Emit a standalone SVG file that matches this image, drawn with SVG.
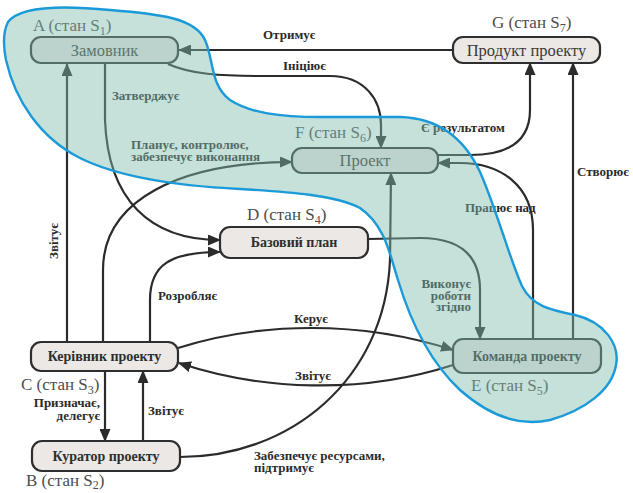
<svg xmlns="http://www.w3.org/2000/svg" width="633" height="493" viewBox="0 0 633 493" font-family="Liberation Serif, DejaVu Serif, serif">
<style>
.box{stroke:#2e2e2e;stroke-width:2.2;fill:#ebe8e5}
.nt{font-size:16.5px;fill:#3a3a3a;text-anchor:middle}
.nb{font-size:14px;font-weight:bold;fill:#2e2e2e;text-anchor:middle}
.st{font-size:17px;fill:#4d4d4d}
.sub{font-size:12px}
.ln{fill:none;stroke:#2b2b2b;stroke-width:2.2}
.lb{font-size:13px;font-weight:bold;fill:#2b2b2b}
.blob{fill:rgb(128,186,173);fill-opacity:0.45;stroke:#1a9ad8;stroke-width:2.4}
</style>
<defs>
<marker id="ah" markerWidth="13" markerHeight="11" refX="12" refY="5.5" orient="auto" markerUnits="userSpaceOnUse">
<path d="M0,0 L13,5.5 L0,11 Z" fill="#2b2b2b"/>
</marker>
</defs>
<rect width="633" height="493" fill="#ffffff"/>
<g id="connectors">
<path class="ln" d="M453,50 L179,50" marker-end="url(#ah)"/>
<text class="lb" x="263" y="39">Отримує</text>
<path class="ln" d="M168,64 C190,74 220,76 260,76 L330,76 C365,76 381,100 381,125 L381,148" marker-end="url(#ah)"/>
<text class="lb" x="283" y="70">Ініціює</text>
<path class="ln" d="M105,63 L105,120 C108,200 150,240 220,240" marker-end="url(#ah)"/>
<text class="lb" x="112" y="100">Затверджує</text>
<path class="ln" d="M103,342 L103,270 C103,200 180,162 292,162" marker-end="url(#ah)"/>
<text class="lb" x="131" y="149">Планує, контролює,</text>
<text class="lb" x="131" y="161">забезпечує виконання</text>
<path class="ln" d="M67,342 L67,64" marker-end="url(#ah)"/>
<text class="lb" transform="translate(58,241) rotate(-90)" text-anchor="middle">Звітує</text>
<path class="ln" d="M150,342 L150,300 C150,265 170,252 220,252" marker-end="url(#ah)"/>
<text class="lb" x="158" y="300">Розробляє</text>
<path class="ln" d="M178,348 C260,322 360,320 453,350" marker-end="url(#ah)"/>
<text class="lb" x="311" y="323" text-anchor="middle">Керує</text>
<path class="ln" d="M453,365 C360,395 260,390 179,363" marker-end="url(#ah)"/>
<text class="lb" x="313" y="380" text-anchor="middle">Звітує</text>
<path class="ln" d="M105,371 L105,441" marker-end="url(#ah)"/>
<text class="lb" x="100" y="407" text-anchor="end">Призначає,</text>
<text class="lb" x="100" y="420" text-anchor="end">делегує</text>
<path class="ln" d="M143,441 L143,371" marker-end="url(#ah)"/>
<text class="lb" x="148" y="415">Звітує</text>
<path class="ln" d="M180,457 C290,457 385,380 390,260 L391,173" marker-end="url(#ah)"/>
<text class="lb" x="254" y="460">Забезпечує ресурсами,</text>
<text class="lb" x="254" y="472">підтримує</text>
<path class="ln" d="M368,239 L420,238 C460,238 480,255 480,290 L480,339" marker-end="url(#ah)"/>
<text class="lb" x="471" y="288" text-anchor="end">Виконує</text>
<text class="lb" x="471" y="300" text-anchor="end">роботи</text>
<text class="lb" x="471" y="311" text-anchor="end">згідно</text>
<path class="ln" d="M533,339 L533,230 C533,185 500,163 460,163 L438,163" marker-end="url(#ah)"/>
<text class="lb" x="465" y="212">Працює над</text>
<path class="ln" d="M573,339 L573,63" marker-end="url(#ah)"/>
<text class="lb" x="577" y="176">Створює</text>
<path class="ln" d="M438,155 L470,155 C510,155 530,140 530,110 L530,63" marker-end="url(#ah)"/>
<text class="lb" x="421" y="132">Є результатом</text>
</g>
<g id="nodeA">
<rect class="box" x="31" y="37" width="147" height="26" rx="10"/>
<text class="nt" x="104.5" y="56">Замовник</text>
<text class="st" x="33" y="31">A (стан S<tspan class="sub" dy="4">1</tspan><tspan dy="-4">)</tspan></text>
</g>
<g id="nodeG">
<rect class="box" x="453" y="37" width="147" height="26" rx="10"/>
<text class="nt" x="526.5" y="56">Продукт проекту</text>
<text class="st" x="492" y="28">G (стан S<tspan class="sub" dy="4">7</tspan><tspan dy="-4">)</tspan></text>
</g>
<g id="nodeF">
<rect class="box" x="292" y="148" width="146" height="25" rx="10"/>
<text class="nt" x="365" y="166">Проект</text>
<text class="st" x="295" y="138">F (стан S<tspan class="sub" dy="4">6</tspan><tspan dy="-4">)</tspan></text>
</g>
<g id="nodeD">
<rect class="box" x="220" y="227" width="148" height="31" rx="10"/>
<text class="nb" x="294" y="247">Базовий план</text>
<text class="st" x="247" y="220">D (стан S<tspan class="sub" dy="4">4</tspan><tspan dy="-4">)</tspan></text>
</g>
<g id="nodeC">
<rect class="box" x="31" y="342" width="147" height="29" rx="10"/>
<text class="nb" x="104.5" y="361">Керівник проекту</text>
<text class="st" x="21" y="390">C (стан S<tspan class="sub" dy="4">3</tspan><tspan dy="-4">)</tspan></text>
</g>
<g id="nodeB">
<rect class="box" x="32" y="441" width="148" height="30" rx="10"/>
<text class="nb" x="106" y="461">Куратор проекту</text>
<text class="st" x="26" y="486">B (стан S<tspan class="sub" dy="3">2</tspan><tspan dy="-3">)</tspan></text>
</g>
<g id="nodeE">
<rect class="box" x="453" y="339" width="148" height="34" rx="10"/>
<text class="nb" x="527" y="361">Команда проекту</text>
<text class="st" x="471" y="391">E (стан S<tspan class="sub" dy="4">5</tspan><tspan dy="-4">)</tspan></text>
</g>
<g id="region">
<path class="blob" d="M8,22 C20,6 60,5 110,10 C160,14 195,18 205,40 C214,60 210,85 230,100 C250,113 280,117 320,117 L400,117 C440,118 465,140 480,172 C495,205 510,260 522,286 C532,306 550,310 575,315 C605,322 620,345 616,365 C612,390 585,410 550,420 C515,428 485,412 460,390 C430,362 410,320 398,280 C390,255 385,225 360,208 C335,195 290,192 240,189 C180,186 120,178 80,158 C40,138 15,100 6,60 C3,45 3,32 8,22 Z"/>
</g>
</svg>
